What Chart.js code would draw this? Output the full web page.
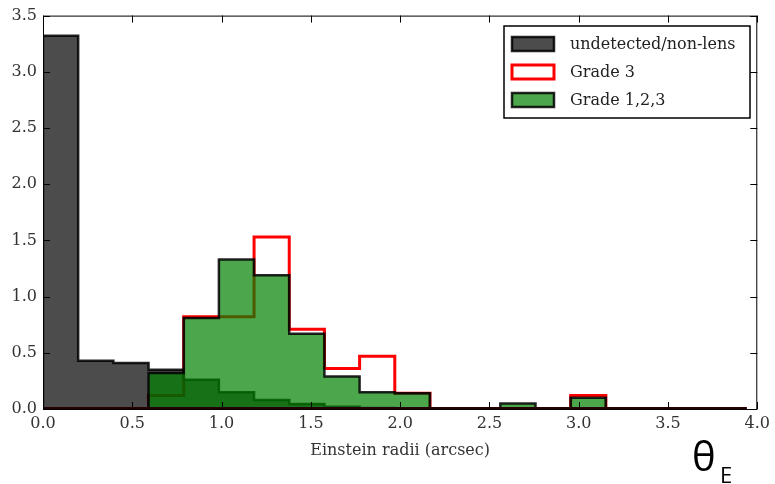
<!DOCTYPE html>
<html>
<head>
<meta charset="utf-8">
<script src="https://cdn.jsdelivr.net/npm/chart.js@4/dist/chart.umd.min.js"></script>
<style>
  html, body { margin: 0; padding: 0; background: #fff; }
  #wrap { position: relative; width: 775px; height: 484px; }
</style>
</head>
<body>
<div id="wrap"><canvas id="hist" width="775" height="484"></canvas></div>
<script>
// bin edges of the histograms (arcsec)
const binEdges = [0, 0.197, 0.394, 0.591, 0.788, 0.985, 1.182, 1.379, 1.576, 1.773, 1.97,
                  2.167, 2.364, 2.561, 2.758, 2.955, 3.152, 3.349, 3.546, 3.743, 3.94];
const undetected = [3.32, 0.43, 0.41, 0.35, 0.26, 0.15, 0.08, 0.045, 0.02, 0.01,
                    0.005, 0, 0, 0, 0, 0, 0, 0, 0, 0];
const grade3 = [0, 0, 0, 0.12, 0.82, 0.82, 1.53, 0.71, 0.36, 0.47,
                0.14, 0, 0, 0, 0, 0.12, 0, 0, 0, 0];
const grade123 = [0, 0, 0, 0.32, 0.81, 1.33, 1.19, 0.67, 0.29, 0.15,
                  0.14, 0, 0, 0.05, 0, 0.10, 0, 0, 0, 0];
const xTicks = [0, 0.5, 1, 1.5, 2, 2.5, 3, 3.5, 4];
const yTicks = [0, 0.5, 1, 1.5, 2, 2.5, 3, 3.5];
const labels = ['undetected/non-lens', 'Grade 3', 'Grade 1,2,3'];

const serif = '"DejaVu Serif", "Liberation Serif", serif';

// outline of a histogram as step points
function stepPoints(values) {
    const pts = [{ x: binEdges[0], y: 0 }];
    values.forEach((v, i) => pts.push({ x: binEdges[i], y: v }));
    const last = binEdges[binEdges.length - 1];
    pts.push({ x: last, y: values[values.length - 1] });
    pts.push({ x: last, y: 0 });
    return pts;
}

const styles = [
    { fill: 'rgba(0,0,0,0.7)', edge: 'rgba(0,0,0,0.85)', width: 2.5 },
    { fill: 'rgba(0,0,0,0)', edge: 'rgb(255,0,0)', width: 3 },
    { fill: 'rgba(0,128,0,0.7)', edge: 'rgba(0,0,0,0.85)', width: 2.5 }
];

const framePlugin = {
    id: 'frame',
    afterDraw(chart) {
        const { ctx, chartArea: a, scales } = chart;
        ctx.save();
        // bottom edge of the step outlines
        styles.forEach(s => {
            ctx.strokeStyle = s.edge;
            ctx.lineWidth = 2;
            ctx.beginPath();
            ctx.moveTo(scales.x.getPixelForValue(binEdges[0]), a.bottom - 1);
            ctx.lineTo(scales.x.getPixelForValue(binEdges[binEdges.length - 1]), a.bottom - 1);
            ctx.stroke();
        });
        ctx.strokeStyle = '#000';
        ctx.lineWidth = 1;
        ctx.strokeRect(a.left + 0.5, a.top + 0.5, a.right - a.left - 1, a.bottom - a.top);
        // inward ticks on all four sides
        ctx.beginPath();
        xTicks.forEach(v => {
            const px = Math.round(scales.x.getPixelForValue(v)) + 0.5;
            ctx.moveTo(px, a.bottom); ctx.lineTo(px, a.bottom - 7);
            ctx.moveTo(px, a.top); ctx.lineTo(px, a.top + 7);
        });
        yTicks.forEach(v => {
            const py = Math.round(scales.y.getPixelForValue(v)) + 0.5;
            ctx.moveTo(a.left, py); ctx.lineTo(a.left + 7, py);
            ctx.moveTo(a.right, py); ctx.lineTo(a.right - 7, py);
        });
        ctx.stroke();

        // legend box
        const bx = 504, by = 26, bw = 246, bh = 92;
        ctx.fillStyle = '#fff';
        ctx.fillRect(bx, by, bw, bh);
        ctx.lineWidth = 1.5;
        ctx.strokeRect(bx, by, bw, bh);
        ctx.font = '16px ' + serif;
        ctx.textBaseline = 'middle';
        labels.forEach((lab, i) => {
            const cy = 44 + i * 28;
            const s = styles[i];
            ctx.fillStyle = s.fill;
            ctx.fillRect(512, cy - 7, 42, 14);
            ctx.strokeStyle = s.edge;
            ctx.lineWidth = s.width;
            ctx.strokeRect(512, cy - 7, 42, 14);
            ctx.fillStyle = '#222';
            ctx.fillText(lab, 570, cy + 1);
        });

        // theta_E annotation
        ctx.fillStyle = '#000';
        ctx.textBaseline = 'alphabetic';
        ctx.font = '40px "Open Sans", "DejaVu Sans", sans-serif';
        ctx.fillText('\u03b8', 692, 471);
        ctx.font = '22px "Open Sans", "DejaVu Sans", sans-serif';
        ctx.fillText('E', 720, 483);
        ctx.restore();
    }
};

const datasets = [undetected, grade3, grade123].map((vals, i) => ({
    label: labels[i],
    data: stepPoints(vals),
    stepped: 'before',
    fill: i === 1 ? false : 'origin',
    backgroundColor: styles[i].fill,
    borderColor: styles[i].edge,
    borderWidth: styles[i].width,
    pointRadius: 0,
    tension: 0,
    order: [1, 2, 0][i]
}));

new Chart(document.getElementById('hist'), {
    type: 'line',
    data: { datasets },
    options: {
        responsive: false,
        animation: false,
        devicePixelRatio: 1,
        layout: { padding: { top: 15, right: 10, left: 0, bottom: 0 } },
        plugins: { legend: { display: false }, tooltip: { enabled: false } },
        scales: {
            x: {
                type: 'linear',
                min: 0,
                max: 4,
                afterFit(scale) { scale.height = 75; },
                afterBuildTicks(scale) { scale.ticks = xTicks.map(v => ({ value: v })); },
                grid: { display: false, drawTicks: false },
                border: { display: false },
                ticks: {
                    padding: 5,
                    color: '#333',
                    font: { family: serif, size: 16 },
                    callback: v => v.toFixed(1)
                },
                title: {
                    display: true,
                    text: 'Einstein radii (arcsec)',
                    color: '#333',
                    font: { family: serif, size: 16 },
                    padding: { top: 4, bottom: 24 }
                }
            },
            y: {
                min: 0,
                max: 3.5,
                afterFit(scale) { scale.width = 43; },
                afterBuildTicks(scale) { scale.ticks = yTicks.map(v => ({ value: v })); },
                grid: { display: false, drawTicks: false },
                border: { display: false },
                ticks: {
                    padding: 6,
                    color: '#333',
                    font: { family: serif, size: 16 },
                    callback: v => v.toFixed(1)
                }
            }
        }
    },
    plugins: [framePlugin]
});
</script>
</body>
</html>
